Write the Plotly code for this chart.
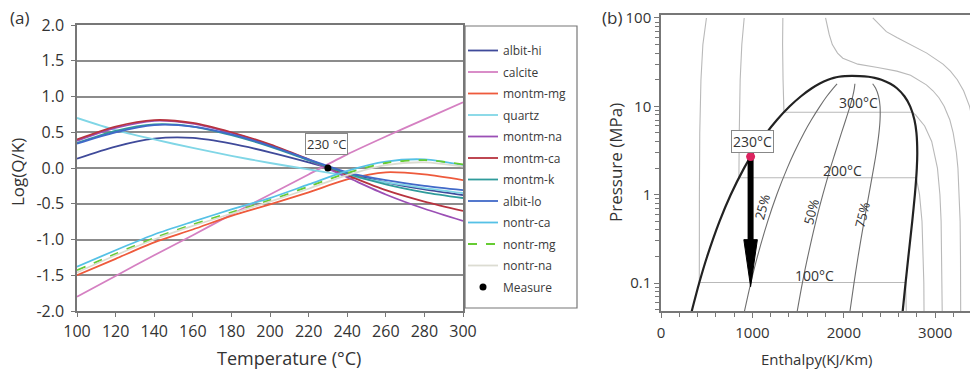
import plotly.graph_objects as go
import math

W, H = 973, 374

# ---------------- Panel (a) data ----------------
temps = [100, 120, 140, 160, 180, 200, 220, 240, 260, 280, 300]
albit_hi = [0.13, 0.30, 0.41, 0.42, 0.34, 0.22, 0.08, -0.07, -0.20, -0.30, -0.38]
calcite = [-1.80, -1.51, -1.22, -0.94, -0.65, -0.37, -0.09, 0.19, 0.44, 0.68, 0.92]
montm_mg = [-1.50, -1.27, -1.04, -0.86, -0.67, -0.51, -0.34, -0.16, -0.06, -0.09, -0.17]
quartz = [0.70, 0.53, 0.40, 0.28, 0.17, 0.07, -0.02, -0.11, -0.20, -0.28, -0.35]
montm_na = [0.38, 0.56, 0.66, 0.62, 0.49, 0.32, 0.11, -0.13, -0.37, -0.57, -0.74]
montm_ca = [0.40, 0.58, 0.67, 0.63, 0.50, 0.33, 0.12, -0.10, -0.31, -0.47, -0.60]
montm_k = [0.35, 0.52, 0.61, 0.58, 0.46, 0.30, 0.11, -0.08, -0.23, -0.34, -0.42]
albit_lo = [0.34, 0.50, 0.60, 0.58, 0.47, 0.31, 0.12, -0.06, -0.17, -0.25, -0.31]
nontr_ca = [-1.38, -1.15, -0.93, -0.75, -0.58, -0.42, -0.23, -0.04, 0.09, 0.12, 0.04]
nontr_mg = [-1.43, -1.20, -0.98, -0.79, -0.62, -0.45, -0.26, -0.07, 0.07, 0.11, 0.05]
nontr_na = [-1.46, -1.22, -1.00, -0.81, -0.64, -0.47, -0.29, -0.10, 0.04, 0.08, 0.02]
measure_t = [230]
measure_v = [0.0]

series_names = ["albit-hi", "calcite", "montm-mg", "quartz", "montm-na", "montm-ca",
                "montm-k", "albit-lo", "nontr-ca", "nontr-mg", "nontr-na"]
series_vals = [albit_hi, calcite, montm_mg, quartz, montm_na, montm_ca,
               montm_k, albit_lo, nontr_ca, nontr_mg, nontr_na]
series_colors = ["#3F4A9A", "#D580C2", "#EE5A3C", "#80D6E6", "#9B4FB5", "#B7333F",
                 "#2F9B9B", "#4169C8", "#55C1E6", "#66CC33", "#DCDCD2"]

a_yticks = [-2.0, -1.5, -1.0, -0.5, 0.0, 0.5, 1.0, 1.5, 2.0]
a_yticklabels = ["-2.0", "-1.5", "-1.0", "-0.5", "0.0", "0.5", "1.0", "1.5", "2.0"]
a_xticks = [100, 120, 140, 160, 180, 200, 220, 240, 260, 280, 300]

# ---------------- Panel (b) data (enthalpy kJ/kg, pressure MPa) ----------------
p_sat = [0.048, 0.1, 0.2, 0.5, 1, 2, 3, 5, 7, 10, 13, 16, 18, 20, 21, 21.6, 22.0, 22.064]
h_liq = [336, 417.5, 504.7, 640.1, 762.5, 908.5, 1008.3, 1154.5, 1267.4, 1408.1,
         1531.4, 1649.7, 1732.0, 1827.2, 1889.8, 1945, 2011, 2087.5]
h_vap = [2643.5, 2675.0, 2706.2, 2748.1, 2777.1, 2798.3, 2803.2, 2794.2, 2772.6, 2725.5,
         2662.4, 2580.8, 2509.5, 2411.4, 2337.5, 2270, 2173, 2087.5]

q_p = [0.048, 0.1, 0.2, 0.5, 1, 2, 3, 5, 7, 10, 13, 16, 18]
q25_h = [913, 982, 1055, 1167, 1266, 1381, 1457, 1564, 1644, 1738, 1814, 1883, 1926]
q50_h = [1490, 1546, 1606, 1694, 1770, 1853, 1906, 1974, 2020, 2067, 2097, 2115, 2121]
q75_h = [2067, 2111, 2156, 2221, 2274, 2326, 2355, 2384, 2396, 2396, 2380, 2348, 2315]

iso100_h = [497, 458, 437, 428, 424, 420, 419, 2676, 2683]
iso100_p = [100, 50, 20, 10, 5, 1, 0.1014, 0.1014, 0.048]
iso200_h = [910, 884, 866, 859, 856, 853, 852.3, 2792, 2828, 2855, 2870, 2875, 2877]
iso200_p = [100, 50, 20, 10, 5, 2, 1.554, 1.554, 1.0, 0.5, 0.2, 0.1, 0.048]
iso300_h = [1333, 1330, 1335, 1340, 1344.8, 2749, 2785, 2884, 2961, 3024, 3051, 3064, 3074, 3076]
iso300_p = [100, 50, 20, 12, 8.58, 8.58, 8, 6, 4, 2, 1, 0.5, 0.1, 0.048]
iso400_h = [1800, 1840, 1874, 1931, 1989, 2153, 2370, 2580, 2730, 2818, 2903, 2975,
            3040, 3097, 3160, 3196, 3231, 3248, 3264, 3272, 3276, 3278]
iso400_p = [100, 65, 50, 40, 35, 30, 27.5, 25, 22.5, 20, 17.5, 15,
            12.5, 10, 7, 5, 3, 2, 1, 0.5, 0.2, 0.048]
iso500_h = [2317, 2465, 2580, 2723, 2907, 3085, 3166, 3241, 3310, 3375, 3423]
iso500_p = [100, 70, 60, 50, 40, 30, 25, 20, 15, 10, 6]

point_h = [980]
point_p = [2.7]
arrow_h = [980, 980]
arrow_p = [2.6, 0.30]
head_h = [906, 1054, 980, 906]
head_p = [0.31, 0.31, 0.091, 0.31]

b_yticks = [0.1, 1, 10, 100]
b_yticklabels = ["0.1", "1", "10", "100"]
b_xticks = [0, 1000, 2000, 3000]

FONT = "Open Sans"
fig = go.Figure()

# panel (a) traces
for name, vals, col in zip(series_names, series_vals, series_colors):
    fig.add_trace(go.Scatter(
        x=temps, y=vals, mode="lines", name=name, legendgroup=name,
        line=dict(color=col, width=1.8, shape="spline", smoothing=0.8,
                  dash="dash" if name == "nontr-mg" else "solid"),
        xaxis="x", yaxis="y"))
fig.add_trace(go.Scatter(
    x=measure_t, y=measure_v, mode="markers", name="Measure", legendgroup="Measure",
    marker=dict(color="black", size=7), xaxis="x", yaxis="y"))

# panel (b) traces
iso_col = "#b9b9b9"
for hh, pp in [(iso100_h, iso100_p), (iso200_h, iso200_p), (iso300_h, iso300_p),
               (iso400_h, iso400_p), (iso500_h, iso500_p)]:
    fig.add_trace(go.Scatter(x=hh, y=pp, mode="lines", showlegend=False,
                             line=dict(color=iso_col, width=1.1),
                             xaxis="x2", yaxis="y2", hoverinfo="skip"))
for hh in [q25_h, q50_h, q75_h]:
    fig.add_trace(go.Scatter(x=hh, y=q_p, mode="lines", showlegend=False,
                             line=dict(color="#6e6e6e", width=1.1, shape="spline"),
                             xaxis="x2", yaxis="y2", hoverinfo="skip"))
fig.add_trace(go.Scatter(x=h_liq + h_vap[::-1], y=p_sat + p_sat[::-1], mode="lines",
                         showlegend=False, line=dict(color="#222222", width=2.2, shape="spline", smoothing=0.6),
                         xaxis="x2", yaxis="y2", hoverinfo="skip"))
fig.add_trace(go.Scatter(x=arrow_h, y=arrow_p, mode="lines", showlegend=False,
                         line=dict(color="black", width=6), xaxis="x2", yaxis="y2"))
fig.add_trace(go.Scatter(x=head_h, y=head_p, mode="lines", fill="toself", fillcolor="black",
                         showlegend=False, line=dict(color="black", width=1),
                         xaxis="x2", yaxis="y2"))
fig.add_trace(go.Scatter(x=point_h, y=point_p, mode="markers", showlegend=False,
                         marker=dict(color="#DC2460", size=9), xaxis="x2", yaxis="y2"))

def px(xp):
    return xp / W

def py(yp):
    return (H - yp) / H

axis_col = "#777777"
fig.update_layout(
    template="none",
    width=W, height=H, margin=dict(l=0, r=0, t=0, b=0, autoexpand=False),
    paper_bgcolor="white", plot_bgcolor="white",
    font=dict(family=FONT, color="#333333"),
    showlegend=True,
    legend=dict(x=px(463), y=py(36), xanchor="left", yanchor="top",
                bgcolor="rgba(0,0,0,0)", borderwidth=0, tracegroupgap=2.5,
                font=dict(size=12, color="#3a3a3a")),
    xaxis=dict(domain=[px(77), px(463)], anchor="y", range=[100, 300], automargin=False,
               tickvals=a_xticks, ticks="outside", ticklen=4, tickcolor=axis_col,
               showline=True, linecolor=axis_col, linewidth=1.5, mirror=True,
               showgrid=False, zeroline=False, ticklabelstandoff=1,
               tickfont=dict(size=16, color="#333")),
    yaxis=dict(domain=[py(311), py(25)], anchor="x", range=[-2, 2], automargin=False,
               tickvals=a_yticks, ticktext=a_yticklabels, ticks="outside", ticklen=4,
               tickcolor=axis_col, showline=True, linecolor=axis_col, linewidth=1.5,
               mirror=True, showgrid=True, gridcolor="#8c8c8c", gridwidth=1.5,
               zeroline=False, ticklabelstandoff=4, tickfont=dict(size=16, color="#333")),
    xaxis2=dict(domain=[px(661), px(970)], anchor="y2", range=[0, 3380], automargin=False,
                tickvals=b_xticks, ticks="outside", ticklen=5, tickcolor=axis_col,
                minor=dict(dtick=200, ticks="outside", ticklen=4, tickcolor=axis_col, showgrid=False),
                showline=True, linecolor=axis_col, linewidth=1.5, mirror=True,
                showgrid=False, zeroline=False, ticklabelstandoff=2,
                tickfont=dict(size=15, color="#333")),
    yaxis2=dict(domain=[py(311), py(15)], anchor="x2", type="log", automargin=False,
                range=[math.log10(0.0483), math.log10(108)],
                tickvals=b_yticks, ticktext=b_yticklabels, ticks="outside", ticklen=5,
                tickcolor=axis_col, ticklabelstandoff=0,
                minor=dict(ticks="outside", ticklen=4, tickcolor=axis_col, showgrid=False,
                           tickvals=[0.05, 0.06, 0.07, 0.08, 0.09, 0.2, 0.3, 0.4, 0.5, 0.6, 0.7, 0.8, 0.9,
                                     2, 3, 4, 5, 6, 7, 8, 9, 20, 30, 40, 50, 60, 70, 80, 90]),
                showline=True, linecolor=axis_col, linewidth=1.5, mirror=False,
                showgrid=False, zeroline=False, tickfont=dict(size=15, color="#333")),
)

fig.add_shape(type="rect", xref="paper", yref="paper",
              x0=px(465), x1=px(577), y0=py(308), y1=py(26),
              line=dict(color="#777777", width=1.2))

ann = []
def paper_text(text, xp, yp, size, angle=0):
    return dict(text=text, x=px(xp), y=py(yp), xref="paper", yref="paper",
                xanchor="center", yanchor="middle", showarrow=False, textangle=angle,
                font=dict(size=size, color="#333"))

ann.append(paper_text("(a)", 19, 18, 17))
ann.append(paper_text("(b)", 612, 18, 17))
ann.append(paper_text("Temperature (°C)", 289, 358, 18))
ann.append(paper_text("Log(Q/K)", 18, 172, 17, -90))
ann.append(paper_text("Pressure (MPa)", 615, 163, 17, -90))
ann.append(paper_text("Enthalpy(KJ/Km)", 817, 359, 15))
ann.append(dict(text="230 °C", x=229.5, y=0.34, xref="x", yref="y", showarrow=False,
                bordercolor="#888", borderwidth=1, borderpad=1, bgcolor="white",
                font=dict(size=13, color="#333")))
ann.append(dict(text="230°C", x=1005, y=0.599, xref="x2", yref="y2", showarrow=False,
                bordercolor="#888", borderwidth=1, borderpad=1, bgcolor="white",
                font=dict(size=14, color="#333")))
for t, hx, ly in [("300°C", 2164, 1.04), ("200°C", 1989, 0.27), ("100°C", 1683, -0.915)]:
    ann.append(dict(text=t, x=hx, y=ly, xref="x2", yref="y2", showarrow=False,
                    font=dict(size=14, color="#333")))
for t, hx, ly, ang in [("25%", 1104, -0.136, -75), ("50%", 1639, -0.192, -75), ("75%", 2197, -0.226, -76)]:
    ann.append(dict(text=t, x=hx, y=ly, xref="x2", yref="y2", showarrow=False,
                    textangle=ang, font=dict(size=13, color="#333")))
fig.update_layout(annotations=ann)

fig.write_html("out.html")
